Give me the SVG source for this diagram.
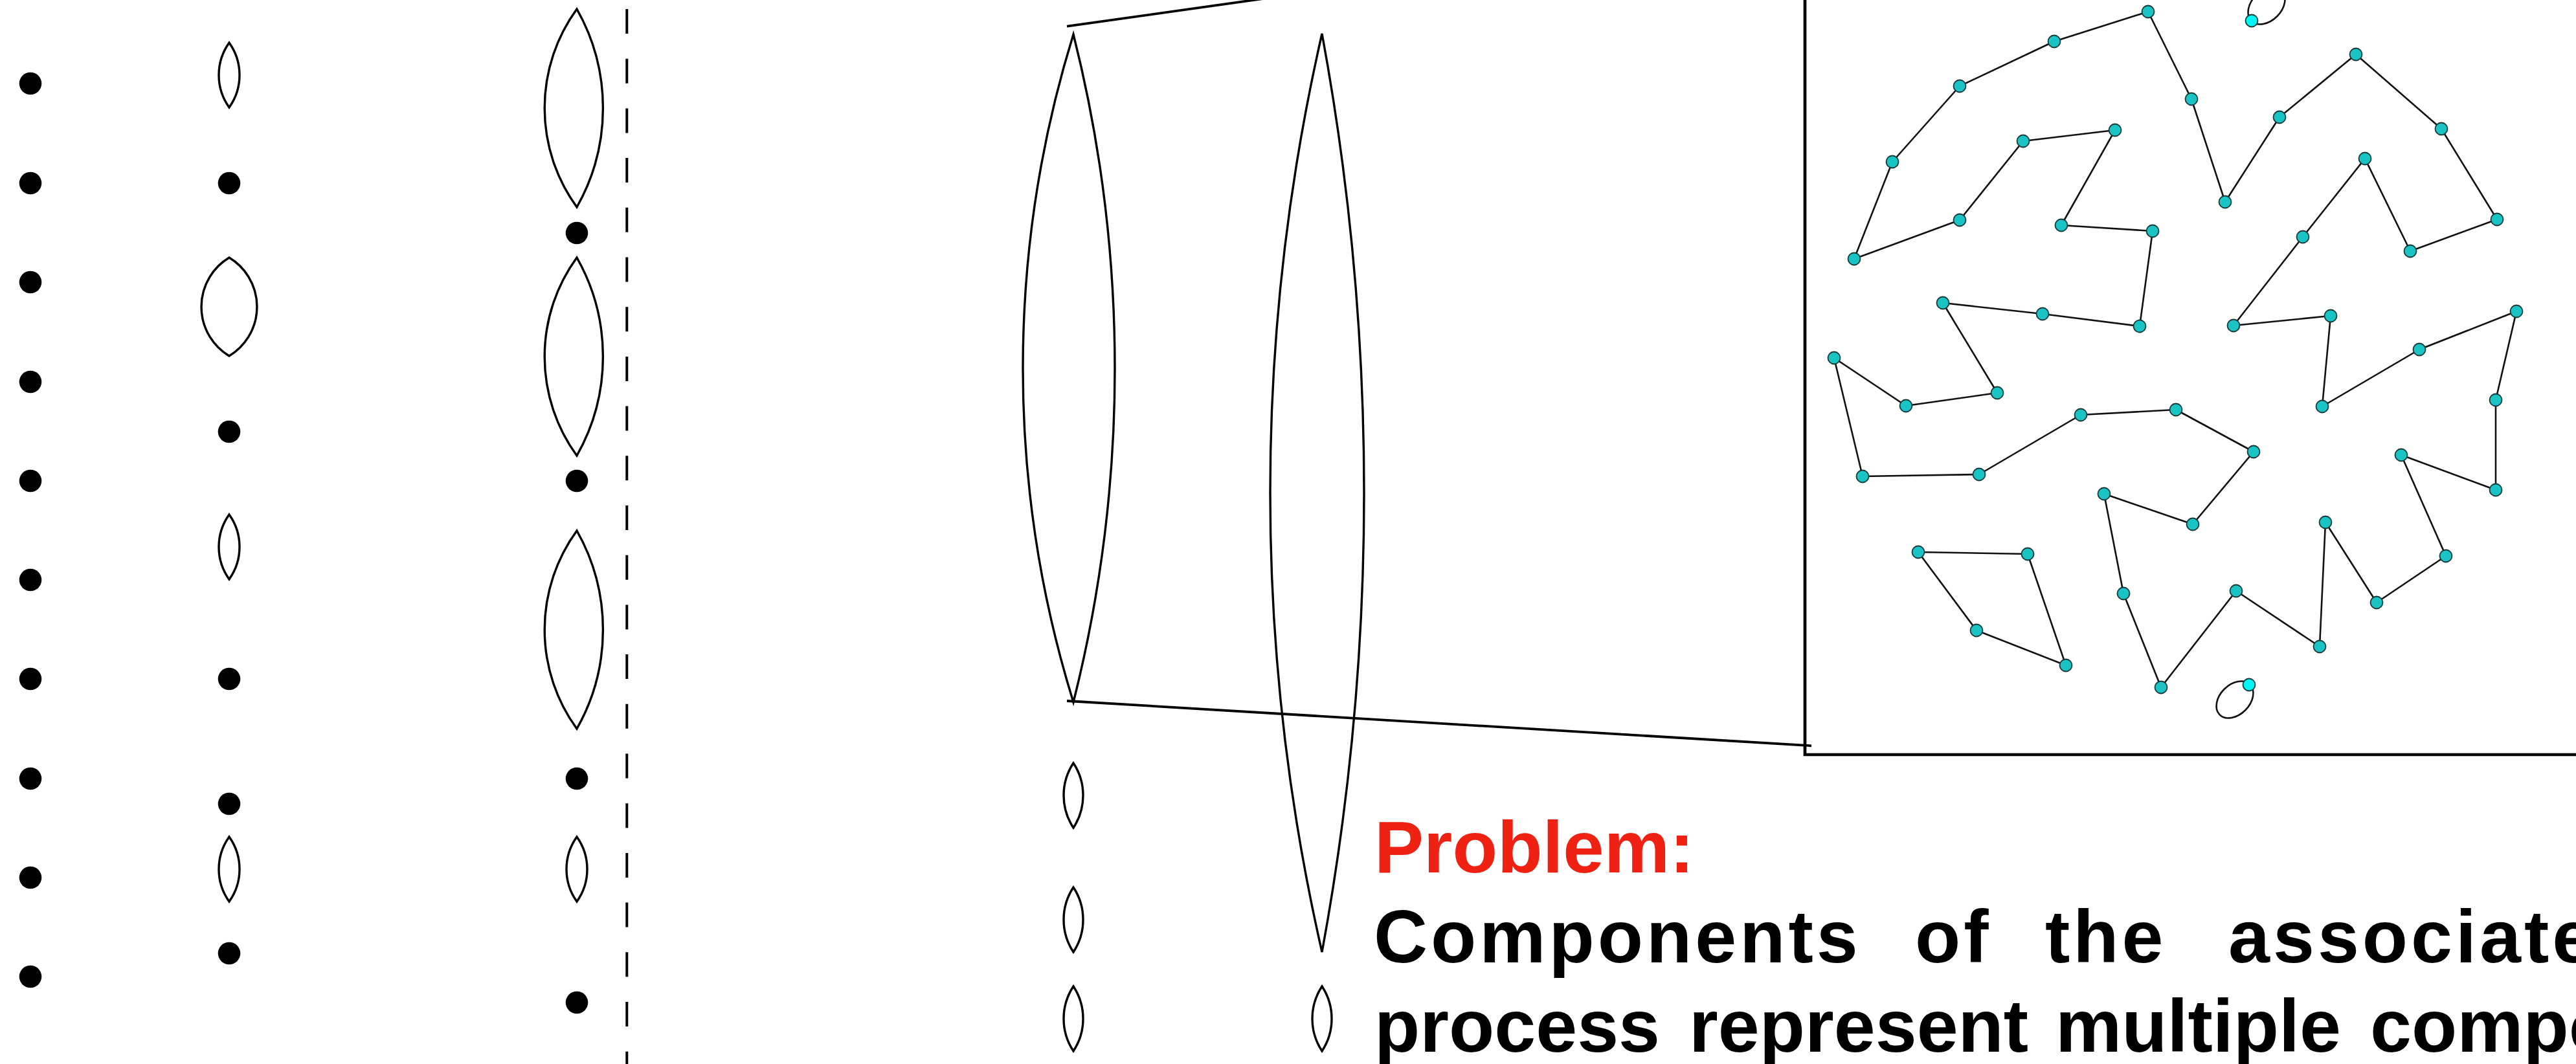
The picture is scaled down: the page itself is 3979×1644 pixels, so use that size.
<svg xmlns="http://www.w3.org/2000/svg" width="3979" height="1644" viewBox="0 0 3979 1644">
<style>
.dot{fill:#000}
.lens{fill:none;stroke:#000;stroke-width:3.4}
.edge{stroke:#111;stroke-width:2.6;fill:none}
.node{fill:#1BC4C4;stroke:#163a3a;stroke-width:1.8}
.lnode{fill:#00F5F5;stroke:#163a3a;stroke-width:1.8}
.zoom{stroke:#000;stroke-width:3.8;fill:none}
.box{stroke:#000;stroke-width:4.7;fill:none}
.t{font-family:"Liberation Sans",Arial,Helvetica,sans-serif;font-weight:bold}
</style>
<rect width="3979" height="1644" fill="#fff"/>
<defs>
<circle id="d" r="17.3"/>
<path id="sl" d="M0,-50 A86.1,86.1 0 0 0 0,50 A86.1,86.1 0 0 0 0,-50Z"/>
<path id="ml" d="M0,-50 A90.8,90.8 0 0 0 0,50 A90.8,90.8 0 0 0 0,-50Z"/>
<path id="bl" d="M0,-153 A260,260 0 0 0 0,153 A310,310 0 0 0 0,-153Z"/>
</defs>

<g id="column1">
<use href="#d" class="dot" x="47" y="129"/>
<use href="#d" class="dot" x="47" y="283"/>
<use href="#d" class="dot" x="47" y="436"/>
<use href="#d" class="dot" x="47" y="590"/>
<use href="#d" class="dot" x="47" y="743"/>
<use href="#d" class="dot" x="47" y="896"/>
<use href="#d" class="dot" x="47" y="1049"/>
<use href="#d" class="dot" x="47" y="1203"/>
<use href="#d" class="dot" x="47" y="1356"/>
<use href="#d" class="dot" x="47" y="1509"/>
</g>

<g id="column2">
<use href="#sl" class="lens" x="354" y="116"/>
<use href="#d" class="dot" x="354" y="283"/>
<path class="lens" d="M354,398 A88.7,88.7 0 0 0 354,550 A88.7,88.7 0 0 0 354,398Z"/>
<use href="#d" class="dot" x="354" y="667"/>
<use href="#sl" class="lens" x="354" y="845"/>
<use href="#d" class="dot" x="354" y="1049"/>
<use href="#d" class="dot" x="354" y="1242"/>
<use href="#sl" class="lens" x="354" y="1343"/>
<use href="#d" class="dot" x="354" y="1473"/>
</g>

<g id="column3">
<use href="#bl" class="lens" x="891" y="167"/>
<use href="#d" class="dot" x="891" y="360"/>
<use href="#bl" class="lens" x="891" y="551"/>
<use href="#d" class="dot" x="891" y="743"/>
<use href="#bl" class="lens" x="891" y="973"/>
<use href="#d" class="dot" x="891" y="1203"/>
<use href="#sl" class="lens" x="891" y="1343"/>
<use href="#d" class="dot" x="891" y="1549"/>
</g>

<line id="divider" x1="968.3" y1="14" x2="968.3" y2="1644" stroke="#000" stroke-width="4" stroke-dasharray="38 38.7"/>

<g id="column4">
<path class="lens" d="M1658,53 A1745.8,1745.8 0 0 0 1658,1085 A2112.1,2112.1 0 0 0 1658,53Z"/>
<use href="#ml" class="lens" x="1658" y="1229"/>
<use href="#ml" class="lens" x="1658" y="1421"/>
<use href="#ml" class="lens" x="1658" y="1574"/>
</g>

<g id="column5">
<path class="lens" d="M2042,52 A3186.2,3186.2 0 0 0 2042,1471 A3904.7,3904.7 0 0 0 2042,52Z"/>
<use href="#ml" class="lens" x="2042" y="1574"/>
</g>

<g id="zoom-lines">
<line class="zoom" x1="1648" y1="40.7" x2="2789" y2="-120"/>
<line class="zoom" x1="1648" y1="1083" x2="2798" y2="1152.3"/>
</g>

<path id="inset-box" class="box" d="M2788,-10 V1166 H3990"/>

<g id="connectors">
<line class="edge" x1="3318" y1="18" x2="3173" y2="64"/>
<line class="edge" x1="3173" y1="64" x2="3027" y2="133"/>
<line class="edge" x1="3027" y1="133" x2="2923" y2="250"/>
<line class="edge" x1="2923" y1="250" x2="2864" y2="400"/>
<line class="edge" x1="2864" y1="400" x2="3027" y2="340"/>
<line class="edge" x1="3027" y1="340" x2="3125" y2="218"/>
<line class="edge" x1="3125" y1="218" x2="3267" y2="201"/>
<line class="edge" x1="3267" y1="201" x2="3184" y2="348"/>
<line class="edge" x1="3184" y1="348" x2="3325" y2="357"/>
<line class="edge" x1="3325" y1="357" x2="3305" y2="504"/>
<line class="edge" x1="3305" y1="504" x2="3155" y2="485"/>
<line class="edge" x1="3155" y1="485" x2="3001" y2="468"/>
<line class="edge" x1="3001" y1="468" x2="3085" y2="607"/>
<line class="edge" x1="3085" y1="607" x2="2944" y2="627"/>
<line class="edge" x1="2944" y1="627" x2="2833" y2="553"/>
<line class="edge" x1="2833" y1="553" x2="2877" y2="736"/>
<line class="edge" x1="2877" y1="736" x2="3057" y2="733"/>
<line class="edge" x1="3057" y1="733" x2="3214" y2="641"/>
<line class="edge" x1="3214" y1="641" x2="3361" y2="633"/>
<line class="edge" x1="3361" y1="633" x2="3481" y2="698"/>
<line class="edge" x1="3481" y1="698" x2="3387" y2="810"/>
<line class="edge" x1="3387" y1="810" x2="3250" y2="763"/>
<line class="edge" x1="3250" y1="763" x2="3280" y2="917"/>
<line class="edge" x1="3280" y1="917" x2="3338" y2="1062"/>
<line class="edge" x1="3338" y1="1062" x2="3454" y2="913"/>
<line class="edge" x1="3454" y1="913" x2="3583" y2="999"/>
<line class="edge" x1="3583" y1="999" x2="3592" y2="807"/>
<line class="edge" x1="3592" y1="807" x2="3671" y2="931"/>
<line class="edge" x1="3671" y1="931" x2="3778" y2="859"/>
<line class="edge" x1="3778" y1="859" x2="3709" y2="703"/>
<line class="edge" x1="3709" y1="703" x2="3855" y2="757"/>
<line class="edge" x1="3855" y1="757" x2="3855" y2="618"/>
<line class="edge" x1="3855" y1="618" x2="3887" y2="481"/>
<line class="edge" x1="3887" y1="481" x2="3737" y2="540"/>
<line class="edge" x1="3737" y1="540" x2="3587" y2="628"/>
<line class="edge" x1="3587" y1="628" x2="3600" y2="488"/>
<line class="edge" x1="3600" y1="488" x2="3450" y2="503"/>
<line class="edge" x1="3450" y1="503" x2="3557" y2="366"/>
<line class="edge" x1="3557" y1="366" x2="3653" y2="245"/>
<line class="edge" x1="3653" y1="245" x2="3723" y2="388"/>
<line class="edge" x1="3723" y1="388" x2="3857" y2="339"/>
<line class="edge" x1="3857" y1="339" x2="3771" y2="199"/>
<line class="edge" x1="3771" y1="199" x2="3639" y2="84"/>
<line class="edge" x1="3639" y1="84" x2="3521" y2="181"/>
<line class="edge" x1="3521" y1="181" x2="3437" y2="312"/>
<line class="edge" x1="3437" y1="312" x2="3385" y2="153"/>
<line class="edge" x1="3385" y1="153" x2="3318" y2="18"/>
<line class="edge" x1="2963" y1="853" x2="3132" y2="856"/>
<line class="edge" x1="3132" y1="856" x2="3191" y2="1028"/>
<line class="edge" x1="3191" y1="1028" x2="3053" y2="974"/>
<line class="edge" x1="3053" y1="974" x2="2963" y2="853"/>
<ellipse class="edge" cx="0" cy="0" rx="33" ry="23" transform="translate(3501 9) rotate(-45)"/>
<ellipse class="edge" cx="0" cy="0" rx="33" ry="23" transform="translate(3452 1081) rotate(-45)"/>
</g>

<g id="n1"><circle class="node" cx="3318" cy="18" r="9.5"/></g>
<g id="n2"><circle class="node" cx="3173" cy="64" r="9.5"/></g>
<g id="n3"><circle class="node" cx="3027" cy="133" r="9.5"/></g>
<g id="n4"><circle class="node" cx="2923" cy="250" r="9.5"/></g>
<g id="n5"><circle class="node" cx="2864" cy="400" r="9.5"/></g>
<g id="n6"><circle class="node" cx="3027" cy="340" r="9.5"/></g>
<g id="n7"><circle class="node" cx="3125" cy="218" r="9.5"/></g>
<g id="n8"><circle class="node" cx="3267" cy="201" r="9.5"/></g>
<g id="n9"><circle class="node" cx="3184" cy="348" r="9.5"/></g>
<g id="n10"><circle class="node" cx="3325" cy="357" r="9.5"/></g>
<g id="n11"><circle class="node" cx="3305" cy="504" r="9.5"/></g>
<g id="n12"><circle class="node" cx="3155" cy="485" r="9.5"/></g>
<g id="n13"><circle class="node" cx="3001" cy="468" r="9.5"/></g>
<g id="n14"><circle class="node" cx="3085" cy="607" r="9.5"/></g>
<g id="n15"><circle class="node" cx="2944" cy="627" r="9.5"/></g>
<g id="n16"><circle class="node" cx="2833" cy="553" r="9.5"/></g>
<g id="n17"><circle class="node" cx="2877" cy="736" r="9.5"/></g>
<g id="n18"><circle class="node" cx="3057" cy="733" r="9.5"/></g>
<g id="n19"><circle class="node" cx="3214" cy="641" r="9.5"/></g>
<g id="n20"><circle class="node" cx="3361" cy="633" r="9.5"/></g>
<g id="n21"><circle class="node" cx="3481" cy="698" r="9.5"/></g>
<g id="n22"><circle class="node" cx="3387" cy="810" r="9.5"/></g>
<g id="n23"><circle class="node" cx="3250" cy="763" r="9.5"/></g>
<g id="n24"><circle class="node" cx="3280" cy="917" r="9.5"/></g>
<g id="n25"><circle class="node" cx="3338" cy="1062" r="9.5"/></g>
<g id="n26"><circle class="node" cx="3454" cy="913" r="9.5"/></g>
<g id="n27"><circle class="node" cx="3583" cy="999" r="9.5"/></g>
<g id="n28"><circle class="node" cx="3592" cy="807" r="9.5"/></g>
<g id="n29"><circle class="node" cx="3671" cy="931" r="9.5"/></g>
<g id="n30"><circle class="node" cx="3778" cy="859" r="9.5"/></g>
<g id="n31"><circle class="node" cx="3709" cy="703" r="9.5"/></g>
<g id="n32"><circle class="node" cx="3855" cy="757" r="9.5"/></g>
<g id="n33"><circle class="node" cx="3855" cy="618" r="9.5"/></g>
<g id="n34"><circle class="node" cx="3887" cy="481" r="9.5"/></g>
<g id="n35"><circle class="node" cx="3737" cy="540" r="9.5"/></g>
<g id="n36"><circle class="node" cx="3587" cy="628" r="9.5"/></g>
<g id="n37"><circle class="node" cx="3600" cy="488" r="9.5"/></g>
<g id="n38"><circle class="node" cx="3450" cy="503" r="9.5"/></g>
<g id="n39"><circle class="node" cx="3557" cy="366" r="9.5"/></g>
<g id="n40"><circle class="node" cx="3653" cy="245" r="9.5"/></g>
<g id="n41"><circle class="node" cx="3723" cy="388" r="9.5"/></g>
<g id="n42"><circle class="node" cx="3857" cy="339" r="9.5"/></g>
<g id="n43"><circle class="node" cx="3771" cy="199" r="9.5"/></g>
<g id="n44"><circle class="node" cx="3639" cy="84" r="9.5"/></g>
<g id="n45"><circle class="node" cx="3521" cy="181" r="9.5"/></g>
<g id="n46"><circle class="node" cx="3437" cy="312" r="9.5"/></g>
<g id="n47"><circle class="node" cx="3385" cy="153" r="9.5"/></g>
<g id="q1"><circle class="node" cx="2963" cy="853" r="9.5"/></g>
<g id="q2"><circle class="node" cx="3132" cy="856" r="9.5"/></g>
<g id="q3"><circle class="node" cx="3191" cy="1028" r="9.5"/></g>
<g id="q4"><circle class="node" cx="3053" cy="974" r="9.5"/></g>
<g id="loop1"><circle class="lnode" cx="3478" cy="32" r="9.5"/></g>
<g id="loop2"><circle class="lnode" cx="3474" cy="1058" r="9.5"/></g>

<g id="caption">
<text class="t" x="2123" y="1348" font-size="114" fill="#EE2112">Problem:</text>
<text class="t" y="1487" font-size="115" fill="#000" letter-spacing="5"><tspan x="2122">Components</tspan><tspan x="2958">of</tspan><tspan x="3159">the</tspan><tspan x="3442">associate</tspan></text>
<text class="t" y="1625" font-size="115" fill="#000"><tspan x="2123">process</tspan><tspan x="2609">represent</tspan><tspan x="3175">multiple</tspan><tspan x="3661">compo</tspan></text>
</g>
</svg>
